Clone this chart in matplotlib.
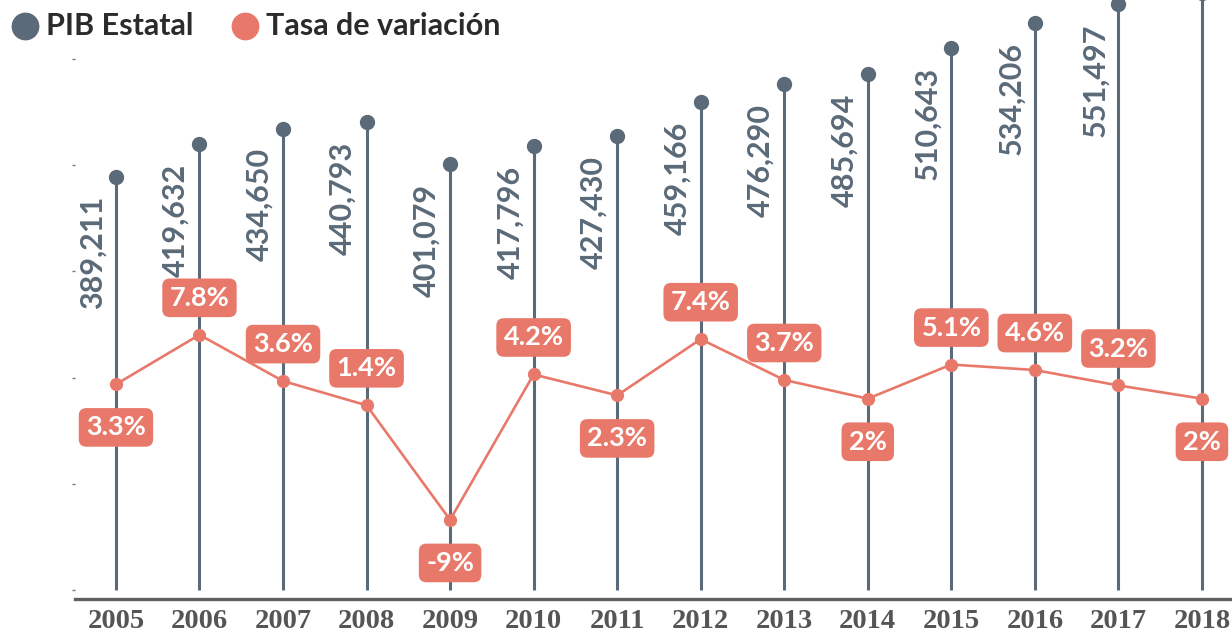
import matplotlib.pyplot as plt
from matplotlib.lines import Line2D

# Data
years = [2005, 2006, 2007, 2008, 2009, 2010, 2011, 2012, 2013, 2014, 2015, 2016, 2017, 2018]
pib = [389211, 419632, 434650, 440793, 401079, 417796, 427430, 459166, 476290, 485694,
       510643, 534206, 551497, 562599]
tasa = [3.3, 7.8, 3.6, 1.4, -9, 4.2, 2.3, 7.4, 3.7, 2, 5.1, 4.6, 3.2, 2]
tasa_labels = ['3.3%', '7.8%', '3.6%', '1.4%', '-9%', '4.2%', '2.3%', '7.4%', '3.7%', '2%',
               '5.1%', '4.6%', '3.2%', '2%']

GRAY = '#5b6a78'
SALMON = '#e8796a'
W, H = 1232, 632

fig = plt.figure(figsize=(12.32, 6.32), dpi=100)
ax = fig.add_axes([75 / W, 33 / H, 1157 / W, 599 / H])

# PIB Estatal: stems with dots
ax.vlines(years, 0, pib, color=GRAY, linewidth=2.2, zorder=2)
ax.plot(years, pib, 'o', color=GRAY, markersize=10, zorder=3)
for x, v in zip(years, pib):
    ax.annotate(f'{v:,}', (x, v), xytext=(-17, -14), textcoords='offset points',
                rotation=90, ha='center', va='top', fontsize=22, fontweight='bold',
                color=GRAY, family='Lato', zorder=4)

ax.set_xlim(2004.51, 2018.36)
ax.set_ylim(-8490, 555700)
ax.set_yticks([0, 100000, 200000, 300000, 400000, 500000])
ax.tick_params(axis='y', length=2, width=1, color='#777777', labelleft=False)
ax.set_xticks(years)
ax.set_xticklabels([str(y) for y in years], fontsize=20.5, fontweight='bold',
                   family='Liberation Serif', color='#555555')
ax.tick_params(axis='x', length=0, pad=7)
for s in ['top', 'right', 'left']:
    ax.spines[s].set_visible(False)
ax.spines['bottom'].set_linewidth(2.4)
ax.spines['bottom'].set_color('#5f5f5f')

# Tasa de variacion on a second axis
ax2 = ax.twinx()
ax2.set_ylim(-16.18, 38.18)
ax2.axis('off')
ax2.plot(years, tasa, '-o', color=SALMON, linewidth=1.9, markersize=8.5, zorder=5)
for i, (x, v, lab) in enumerate(zip(years, tasa, tasa_labels)):
    prev_v = tasa[i - 1] if i > 0 else float('inf')
    next_v = tasa[i + 1] if i < len(tasa) - 1 else float('inf')
    below = v < prev_v and v < next_v
    dy = -31 if below else 26.6
    ax2.annotate(lab, (x, v), xytext=(0, dy), textcoords='offset points',
                 ha='center', va='center', fontsize=19.5, fontweight='bold',
                 color='white', family='Lato', zorder=6,
                 bbox=dict(boxstyle='round,pad=0.27,rounding_size=0.28',
                           fc=SALMON, ec='none'))

# Legend drawn by hand in figure pixels
leg_items = [('PIB Estatal', GRAY, 25, 46), ('Tasa de variación', SALMON, 245, 266)]
for label, col, cx, tx in leg_items:
    fig.add_artist(Line2D([cx / W], [1 - 26 / H], transform=fig.transFigure,
                          marker='o', markersize=19, color=col, linestyle='none'))
    fig.text(tx / W, 1 - 26 / H, label, ha='left', va='center', fontsize=22,
             fontweight='bold', family='Lato', color='#2b2b2b')

fig.savefig('out.png', dpi=100)
